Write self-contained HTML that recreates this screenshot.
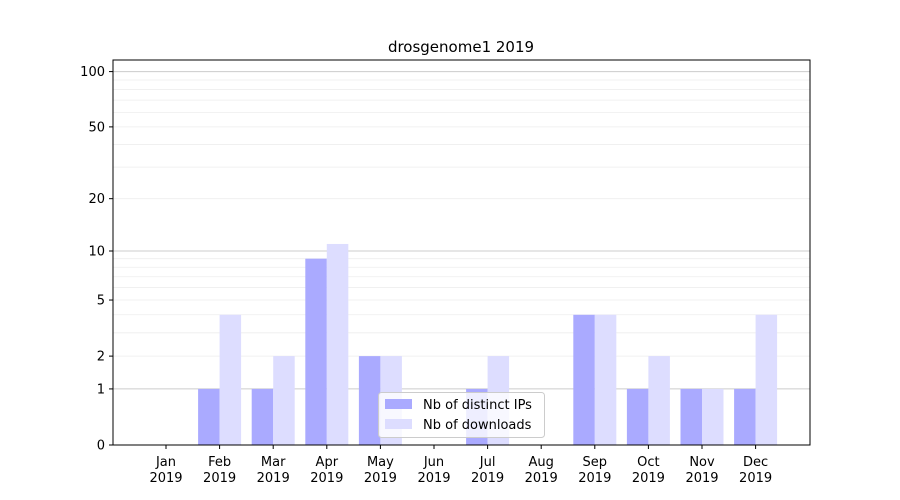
<!DOCTYPE html>
<html><head><meta charset="utf-8"><style>
html,body{margin:0;padding:0;background:#fff;}
svg{display:block;font-family:"DejaVu Sans","Liberation Sans",sans-serif;}
</style></head><body>
<svg width="900" height="500" viewBox="0 0 900 500" xmlns="http://www.w3.org/2000/svg">
<rect width="900" height="500" fill="#fff"/>
<g id="grid"></g>
<g id="bars"></g>
<rect x="113" y="60" width="697" height="385" fill="none" stroke="#000" stroke-width="1"/>
<g id="yt" font-size="13" text-anchor="end"></g>
<g id="xt" font-size="13" text-anchor="middle"></g>
<text x="461" y="52" font-size="15" text-anchor="middle">drosgenome1 2019</text>
<g>
<rect x="378.5" y="392.5" width="166" height="45" rx="3" fill="#fff" fill-opacity="0.8" stroke="#ccc"/>
<rect x="385" y="399" width="27" height="10" fill="#aaaaff"/>
<text x="423" y="409" font-size="13">Nb of distinct IPs</text>
<rect x="385" y="419" width="27" height="10" fill="#ddddff"/>
<text x="423" y="429" font-size="13">Nb of downloads</text>
</g>
</svg>
<script>
const ns="http://www.w3.org/2000/svg";
function Y(v){return 445-186.3*Math.log10(1+v);}
function el(p,t,a,txt){const e=document.createElementNS(ns,t);for(const k in a)e.setAttribute(k,a[k]);if(txt!==undefined)e.textContent=txt;document.getElementById(p).appendChild(e);return e;}
const minors=[2,3,4,5,6,7,8,9,20,30,40,50,60,70,80,90];
minors.forEach(v=>{const y=Y(v);if(y>60)el("grid","line",{x1:113,x2:810,y1:y,y2:y,stroke:"#eeeeee","stroke-width":0.8});});
[1,10,100].forEach(v=>{const y=Y(v);el("grid","line",{x1:113,x2:810,y1:y,y2:y,stroke:"#cccccc","stroke-width":1});});
const ips=[0,1,1,9,2,0,1,0,4,1,1,1], dl=[0,4,2,11,2,0,2,0,4,2,1,4];
const months=["Jan","Feb","Mar","Apr","May","Jun","Jul","Aug","Sep","Oct","Nov","Dec"];
const w=21.5;
for(let i=0;i<12;i++){
 const c=166+i*53.6;
 if(ips[i]>0)el("bars","rect",{x:c-w,y:Y(ips[i]),width:w,height:445-Y(ips[i]),fill:"#aaaaff"});
 if(dl[i]>0)el("bars","rect",{x:c,y:Y(dl[i]),width:w,height:445-Y(dl[i]),fill:"#ddddff"});
 el("xt","line",{x1:c,x2:c,y1:445,y2:449,stroke:"#000"});
 el("xt","text",{x:c,y:466},months[i]);
 el("xt","text",{x:c,y:482},"2019");
}
[0,1,2,5,10,20,50,100].forEach(v=>{const y=Y(v);
 el("yt","line",{x1:109,x2:113,y1:y,y2:y,stroke:"#000"});
 el("yt","text",{x:105,y:y+4.5},String(v));});
</script>
</body></html>
